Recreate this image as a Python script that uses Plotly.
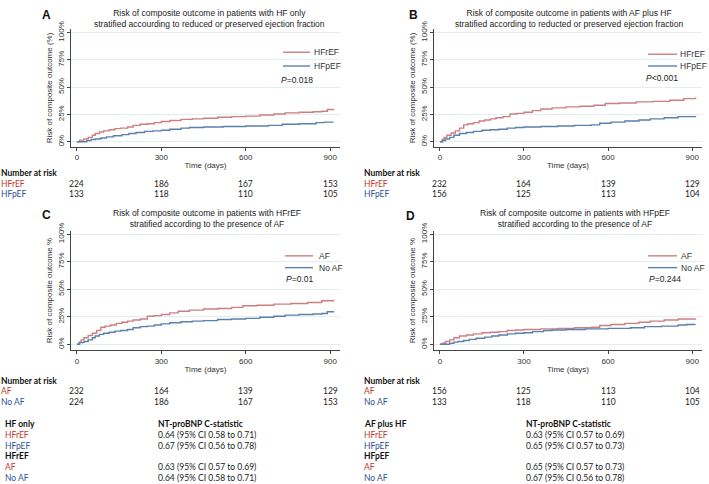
import plotly.graph_objects as go

W, H = 709, 484

# ---------------- data ----------------
# Kaplan-Meier style cumulative risk (%)
hfonly_hfref_t = [0, 10, 25, 40, 55, 65, 80, 95, 115, 135, 155, 180, 200, 225, 250, 275, 300, 330, 370, 410, 450, 500, 550, 600, 650, 700, 740, 790, 840, 870, 890, 912]
hfonly_hfref_v = [0, 1.5, 2.5, 4, 6, 7.5, 9, 10, 11, 12, 12.5, 13.5, 15, 16, 16.5, 17.5, 18.5, 19.5, 20.5, 21, 21.5, 22.5, 23, 23.5, 24.5, 25.5, 26.5, 27, 27.5, 28, 29.5, 30]

hfonly_hfpef_t = [0, 35, 50, 65, 85, 105, 130, 160, 185, 210, 240, 270, 300, 330, 370, 400, 450, 520, 600, 680, 730, 790, 850, 880, 912]
hfonly_hfpef_v = [0, 1, 2, 2.5, 3.5, 4.5, 5.5, 6.5, 7.5, 8.5, 9.5, 10, 10.5, 11.5, 12.5, 13, 13.5, 14, 14.5, 15, 16, 16.5, 17.5, 18, 18]

afhf_hfref_t = [0, 8, 15, 25, 40, 55, 70, 85, 100, 120, 140, 160, 180, 200, 225, 250, 275, 300, 330, 360, 400, 450, 500, 550, 590, 640, 700, 760, 820, 870, 912]
afhf_hfref_v = [0, 2, 4, 6, 8, 10, 12.5, 15.5, 16.5, 17.5, 19, 20, 21, 22, 23, 25.5, 26, 27, 28.5, 30, 31, 32, 32.5, 33.5, 35, 35.5, 36.5, 37, 38, 39.5, 40.5]

afhf_hfpef_t = [0, 10, 20, 35, 50, 70, 95, 120, 150, 180, 210, 240, 270, 300, 360, 420, 480, 540, 570, 610, 660, 710, 750, 800, 850, 912]
afhf_hfpef_v = [0, 1, 2.5, 4, 6, 7.5, 8.5, 9.5, 10.5, 11, 11.5, 12.5, 13, 13.5, 14, 14.5, 15, 15.5, 17, 18, 19, 20, 21, 22, 23, 23.5]

risk_days = [0, 300, 600, 900]
risk_A_hfref = [224, 186, 167, 153]
risk_A_hfpef = [133, 118, 110, 105]
risk_B_hfref = [232, 164, 139, 129]
risk_B_hfpef = [156, 125, 113, 104]
risk_C_af = [232, 164, 139, 129]
risk_C_noaf = [224, 186, 167, 153]
risk_D_af = [156, 125, 113, 104]
risk_D_noaf = [133, 118, 110, 105]

y_ticks = [0, 25, 50, 75, 100]
y_ticklabels = ["0%", "25%", "50%", "75%", "100%"]
x_ticks = [0, 300, 600, 900]

p_values = ["<i>P</i>=0.018", "<i>P</i><0.001", "<i>P</i>=0.01", "<i>P</i>=0.244"]

titles = [
    "Risk of composite outcome in patients with HF only<br>stratified accourding to reduced or preserved ejection fraction",
    "Risk of composite outcome in patients with AF plus HF<br>stratified according to reducted or preserved ejection fraction",
    "Risk of composite outcome in patients with HFrEF<br>stratified according to the presence of AF",
    "Risk of composite outcome in patients with HFpEF<br>stratified according to the presence of AF",
]

left_table_rows = [("HFrEF", "0.64 (95% CI 0.58 to 0.71)"), ("HFpEF", "0.67 (95% CI 0.56 to 0.78)"),
                   ("AF", "0.63 (95% CI 0.57 to 0.69)"), ("No AF", "0.64 (95% CI 0.58 to 0.71)")]
right_table_rows = [("HFrEF", "0.63 (95% CI 0.57 to 0.69)"), ("HFpEF", "0.65 (95% CI 0.57 to 0.73)"),
                    ("AF", "0.65 (95% CI 0.57 to 0.73)"), ("No AF", "0.67 (95% CI 0.56 to 0.78)")]

# ---------------- style ----------------
RED_LINE = "#cc7f82"
BLUE_LINE = "#5a80ad"
RED_TXT = "#c0392b"
BLUE_TXT = "#2f5496"
AX = "#444444"
GRID = "#e2eef0"
FONT = "Liberation Sans, Arial, sans-serif"
TFONT = "Lato, Carlito, Calibri, sans-serif"


def px(x):
    return x / W


def py(y):
    return 1 - y / H


fig = go.Figure()

panels = [
    ("", (hfonly_hfref_t, hfonly_hfref_v), (hfonly_hfpef_t, hfonly_hfpef_v), ("HFrEF", "HFpEF"), (71, 340), (141, 21.7), [-4.5, 103], "Risk of composite outcome (%)"),
    ("2", (afhf_hfref_t, afhf_hfref_v), (afhf_hfpef_t, afhf_hfpef_v), ("HFrEF", "HFpEF"), (434, 702), (141, 21.7), [-4.5, 103], "Risk of composite outcome (%)"),
    ("3", (afhf_hfref_t, afhf_hfref_v), (hfonly_hfref_t, hfonly_hfref_v), ("AF", "No AF"), (71, 340), (348, 226.6), [-5.4, 103], "Risk of composite outcome %"),
    ("4", (afhf_hfpef_t, afhf_hfpef_v), (hfonly_hfpef_t, hfonly_hfpef_v), ("AF", "No AF"), (434, 702), (348, 226.6), [-5.4, 103], "Risk of composite outcome %"),
]

# legend key positions (line x0, x1, first-row y, second-row y, text x)
legend_keys = [(283, 310, 45, 59, 313), (648, 677, 47, 59, 679), (285, 313, 252, 264, 318), (648, 677, 252, 264, 680)]

shapes = []
annotations = []


def txt(x, y, s, size=8.5, color="#222", bold=False, anchor="left", family=FONT, xref="paper"):
    if bold:
        s = f"<b>{s}</b>"
    annotations.append(dict(
        x=x if xref != "paper" else px(x), y=py(y), xref=xref, yref="paper", text=s, showarrow=False,
        xanchor=anchor, yanchor="middle", borderpad=0, font=dict(size=size, color=color, family=family)))


layout_axes = {}
for i, (aid, c1, c2, names, xd, yd, yr, ytitle) in enumerate(panels):
    for (t, v), name, col in ((c1, names[0], RED_LINE), (c2, names[1], BLUE_LINE)):
        fig.add_trace(go.Scatter(
            x=t, y=v, mode="lines", line=dict(color=col, width=1.4, shape="hv"),
            name=name, xaxis="x" + aid, yaxis="y" + aid, showlegend=False, hoverinfo="skip"))
    layout_axes["xaxis" + aid] = dict(
        domain=[px(xd[0]), px(xd[1])], range=[-21, 935], anchor="y" + aid,
        tickvals=x_ticks, ticks="outside", ticklen=3, tickcolor=AX, showline=True, linecolor=AX, linewidth=1,
        showgrid=False, zeroline=False, tickfont=dict(size=8, color="#333", family=FONT),
        title=dict(text="Time (days)", font=dict(size=8, color="#333", family=FONT), standoff=1),
    )
    layout_axes["yaxis" + aid] = dict(
        domain=[py(yd[0]), py(yd[1])], range=yr, anchor="x" + aid,
        tickvals=y_ticks, ticktext=y_ticklabels, tickangle=-90, ticks="outside", ticklen=3, tickcolor=AX,
        showline=True, linecolor=AX, linewidth=1, showgrid=True, gridcolor=GRID, gridwidth=1, zeroline=False,
        tickfont=dict(size=8, color="#333", family=FONT),
        title=dict(text=ytitle, font=dict(size=8, color="#333", family=FONT), standoff=2),
    )
    x0, x1, ya, yb, tx = legend_keys[i]
    for yy, col, name in ((ya, RED_LINE, names[0]), (yb, BLUE_LINE, names[1])):
        shapes.append(dict(type="line", xref="paper", yref="paper", x0=px(x0), x1=px(x1), y0=py(yy), y1=py(yy),
                           line=dict(color=col, width=1.4)))
        txt(tx, yy, name, size=8.5, color="#333")

# panel letters
for letter, x, y in (("A", 47, 7), ("B", 413, 7), ("C", 47, 210), ("D", 410, 212)):
    txt(x, y, letter, size=12, color="#111", bold=True, anchor="center")

# titles
title_pos = [(209, 11), (569, 11), (207, 214), (575, 214)]
for (x, y), t in zip(title_pos, titles):
    annotations.append(dict(x=px(x), y=py(y), xref="paper", yref="paper", text=t, showarrow=False,
                            xanchor="center", yanchor="middle", align="center", borderpad=0,
                            font=dict(size=8.5, color="#222", family=FONT)))

# p-values
for (x, y), p in zip([(280, 73), (645, 71), (285, 276), (648, 276)], p_values):
    txt(x, y, p, size=8.5, color="#222")

# numbers at risk
risk_tables = [
    ("x", 0, 168, ("HFrEF", "HFpEF"), risk_A_hfref, risk_A_hfpef),
    ("x2", 363, 168, ("HFrEF", "HFpEF"), risk_B_hfref, risk_B_hfpef),
    ("x3", 0, 379, ("AF", "No AF"), risk_C_af, risk_C_noaf),
    ("x4", 363, 379, ("AF", "No AF"), risk_D_af, risk_D_noaf),
]
for xr, lx, y0, names, r1, r2 in risk_tables:
    txt(lx, y0, "Number at risk", size=8.5, color="#111", bold=True, family=TFONT)
    txt(lx, y0 + 10.5, names[0], size=8.5, color=RED_TXT, family=TFONT)
    txt(lx, y0 + 21.5, names[1], size=8.5, color=BLUE_TXT, family=TFONT)
    for d, a, b in zip(risk_days, r1, r2):
        txt(d, y0 + 10.5, str(a), size=8.5, color="#222", anchor="center", family=TFONT, xref=xr)
        txt(d, y0 + 21.5, str(b), size=8.5, color="#222", anchor="center", family=TFONT, xref=xr)

# C-statistic tables
for lx, vx, head, sub, rows in ((4, 157, "HF only", "HFrEF", left_table_rows),
                                 (363, 525, "AF plus HF", "HFpEF", right_table_rows)):
    txt(lx, 423, head, size=8.5, color="#111", bold=True, family=TFONT)
    txt(vx, 423, "NT-proBNP C-statistic", size=8.5, color="#111", bold=True, family=TFONT)
    ys = [434, 445, 467, 478]
    cols = [RED_TXT, BLUE_TXT, RED_TXT, BLUE_TXT]
    for (name, val), y, c in zip(rows, ys, cols):
        txt(lx, y, name, size=8.5, color=c, family=TFONT)
        txt(vx, y, val, size=8.5, color="#222", family=TFONT)
    txt(lx, 456, sub, size=8.5, color="#111", bold=True, family=TFONT)

fig.update_layout(
    width=W, height=H, margin=dict(l=0, r=0, t=0, b=0),
    paper_bgcolor="white", plot_bgcolor="white",
    annotations=annotations, shapes=shapes, **layout_axes,
)

fig.write_html("out.html", config={"displayModeBar": False},
               post_script="document.body.style.margin='0px';document.body.style.overflow='hidden';")
